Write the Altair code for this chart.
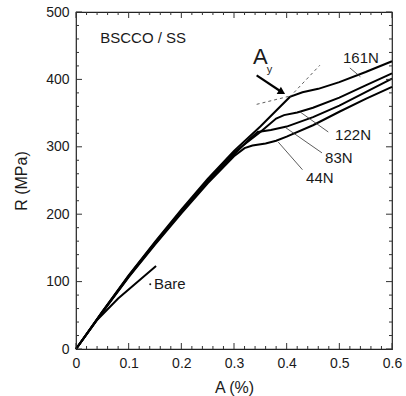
import altair as alt
import pandas as pd

# ---------------- data ----------------
common_x = [0.0, 0.05, 0.1, 0.15, 0.2, 0.25, 0.3]
common_y = [0, 55, 108, 157, 204, 249, 290]

x161 = [0.35, 0.406, 0.43, 0.46, 0.5, 0.55, 0.6]
y161 = [330, 374, 381, 386, 396, 411, 427]

x122 = [0.35, 0.38, 0.395, 0.42, 0.45, 0.5, 0.55, 0.6]
y122 = [322, 342, 347, 351, 358, 373, 391, 409]

x83 = [0.33, 0.345, 0.37, 0.4, 0.45, 0.5, 0.55, 0.6]
y83 = [312, 322, 325, 330, 344, 361, 381, 401]

x44 = [0.32, 0.335, 0.36, 0.38, 0.4, 0.45, 0.5, 0.55, 0.6]
y44 = [298, 302, 305, 309, 315, 332, 352, 371, 389]

bare_x = [0.0, 0.04, 0.08, 0.152]
bare_y = [0, 43, 75, 123]

# offsets of the four loaded curves in the common elastic part (small spread)
spread = {"161N": 4, "122N": 1.5, "83N": -1.5, "44N": -4}

labels = ["161N", "122N", "83N", "44N"]
label_x = [0.541, 0.526, 0.499, 0.463]
label_y = [432, 318, 283, 254]
lead_x1 = [0.520, 0.479, 0.467, 0.430]
lead_y1 = [417, 322, 291, 266]
lead_x2 = [0.540, 0.425, 0.397, 0.384]
lead_y2 = [404, 352, 329, 307]

dash_x1 = [0.406, 0.343]
dash_y1 = [374, 363]
dash_x2 = [0.463, 0.410]
dash_y2 = [421, 376]

arrow_x = [0.343, 0.395]
arrow_y = [406, 379]

x_major = [0.0, 0.1, 0.2, 0.3, 0.4, 0.5, 0.6]
x_minor = [0.02, 0.04, 0.06, 0.08, 0.12, 0.14, 0.16, 0.18, 0.22, 0.24, 0.26, 0.28,
           0.32, 0.34, 0.36, 0.38, 0.42, 0.44, 0.46, 0.48, 0.52, 0.54, 0.56, 0.58]
y_major = [0, 100, 200, 300, 400, 500]
y_minor = [20, 40, 60, 80, 120, 140, 160, 180, 220, 240, 260, 280,
           320, 340, 360, 380, 420, 440, 460, 480]

# ---------------- build tables ----------------
W, H = 316, 337
FONT = "Liberation Sans"
INK = "#1a1a1a"

rows = []
tails = {"161N": (x161, y161), "122N": (x122, y122), "83N": (x83, y83), "44N": (x44, y44)}
for name, (tx, ty) in tails.items():
    o = 0
    for cx, cy in zip(common_x, common_y):
        if tx[0] > cx:
            rows.append({"s": name, "x": cx, "y": cy + (spread[name] * cx / 0.3 if cx > 0 else 0), "o": o}); o += 1
    for px, py in zip(tx, ty):
        rows.append({"s": name, "x": px, "y": py, "o": o}); o += 1
for i, (bx, by) in enumerate(zip(bare_x, bare_y)):
    rows.append({"s": "Bare", "x": bx, "y": by, "o": i})
curves = pd.DataFrame(rows)

xs = alt.Scale(domain=[0, 0.6], nice=False, zero=False)
ys = alt.Scale(domain=[0, 500], nice=False, zero=False)

base_x = alt.X("x:Q", scale=xs,
               axis=alt.Axis(values=x_major, ticks=False, grid=False, domain=False,
                             title="A (%)", labelFont=FONT, labelFontSize=14, labelColor=INK,
                             labelPadding=7, titleFont=FONT, titleFontSize=16,
                             titleFontWeight="normal", titleColor=INK, titlePadding=9,
                             format="~g", labelFlush=False))
base_y = alt.Y("y:Q", scale=ys,
               axis=alt.Axis(values=y_major, ticks=False, grid=False, domain=False,
                             title="R (MPa)", labelFont=FONT, labelFontSize=14, labelColor=INK,
                             labelPadding=7, titleFont=FONT, titleFontSize=16,
                             titleFontWeight="normal", titleColor=INK, titlePadding=16,
                             labelFlush=False))

lines = alt.Chart(curves).mark_line(color="black", strokeWidth=2).encode(
    x=base_x, y=base_y, detail="s:N", order="o:Q")

def seg_df(x1, y1, x2, y2):
    return pd.DataFrame({"x": x1, "y": y1, "x2": x2, "y2": y2})

leaders = alt.Chart(seg_df(lead_x1, lead_y1, lead_x2, lead_y2)).mark_rule(
    color="#333", strokeWidth=0.8).encode(
    x=alt.X("x:Q", scale=xs), y=alt.Y("y:Q", scale=ys), x2="x2:Q", y2="y2:Q")

dashes = alt.Chart(seg_df(dash_x1, dash_y1, dash_x2, dash_y2)).mark_rule(
    color="#333", strokeWidth=0.8, strokeDash=[3, 3]).encode(
    x=alt.X("x:Q", scale=xs), y=alt.Y("y:Q", scale=ys), x2="x2:Q", y2="y2:Q")

arrow = alt.Chart(seg_df([arrow_x[0]], [arrow_y[0]], [arrow_x[1] - 0.006], [arrow_y[1] + 3])).mark_rule(
    color="black", strokeWidth=2.2).encode(
    x=alt.X("x:Q", scale=xs), y=alt.Y("y:Q", scale=ys), x2="x2:Q", y2="y2:Q")

arrow_head = alt.Chart(pd.DataFrame({"x": [arrow_x[1] - 0.004], "y": [arrow_y[1] + 2]})).mark_point(
    shape="triangle-up", filled=True, color="black", size=70, angle=120, opacity=1).encode(
    x=alt.X("x:Q", scale=xs), y=alt.Y("y:Q", scale=ys))

lab = alt.Chart(pd.DataFrame({"x": label_x, "y": label_y, "t": labels})).mark_text(
    font=FONT, fontSize=15, color=INK, align="center", baseline="middle").encode(
    x=alt.X("x:Q", scale=xs), y=alt.Y("y:Q", scale=ys), text="t:N")

texts = pd.DataFrame({
    "x": [0.046, 0.148, 0.336],
    "y": [461, 96, 433],
    "t": ["BSCCO / SS", "Bare", "A"],
    "fs": [15, 15, 22],
})
other_text = alt.Chart(texts).mark_text(
    font=FONT, color=INK, align="left", baseline="middle").encode(
    x=alt.X("x:Q", scale=xs), y=alt.Y("y:Q", scale=ys), text="t:N",
    size=alt.Size("fs:Q", scale=None, legend=None))

sub_y = alt.Chart(pd.DataFrame({"x": [0.362], "y": [414], "t": ["y"]})).mark_text(
    font=FONT, fontSize=11, color=INK, align="left", baseline="middle").encode(
    x=alt.X("x:Q", scale=xs), y=alt.Y("y:Q", scale=ys), text="t:N")

dot = alt.Chart(pd.DataFrame({"x": [0.141], "y": [96]})).mark_point(
    shape="circle", filled=True, color=INK, size=4, opacity=1).encode(
    x=alt.X("x:Q", scale=xs), y=alt.Y("y:Q", scale=ys))

def xticks(vals, length):
    d = pd.DataFrame({"v": vals})
    b = alt.Chart(d).mark_rule(color="#333", strokeWidth=1).encode(
        x=alt.X("v:Q", scale=xs), y=alt.value(H), y2=alt.value(H - length))
    t = alt.Chart(d).mark_rule(color="#333", strokeWidth=1).encode(
        x=alt.X("v:Q", scale=xs), y=alt.value(0), y2=alt.value(length))
    return [b, t]

def yticks(vals, length):
    d = pd.DataFrame({"v": vals})
    l = alt.Chart(d).mark_rule(color="#333", strokeWidth=1).encode(
        y=alt.Y("v:Q", scale=ys), x=alt.value(0), x2=alt.value(length))
    r = alt.Chart(d).mark_rule(color="#333", strokeWidth=1).encode(
        y=alt.Y("v:Q", scale=ys), x=alt.value(W), x2=alt.value(W - length))
    return [l, r]

tick_layers = xticks(x_major, 6) + xticks(x_minor, 3) + yticks(y_major, 6) + yticks(y_minor, 3)

chart = alt.layer(
    lines, *tick_layers, leaders, dashes, arrow, arrow_head, lab, other_text, sub_y, dot
).properties(
    width=W, height=H,
    autosize=alt.AutoSizeParams(type="none"),
    padding={"left": 76, "top": 12, "right": 14, "bottom": 47},
    background="white",
).configure_view(stroke="#222", strokeWidth=1.2)

chart.save("out.html", embed_options={"renderer": "svg", "actions": False})
